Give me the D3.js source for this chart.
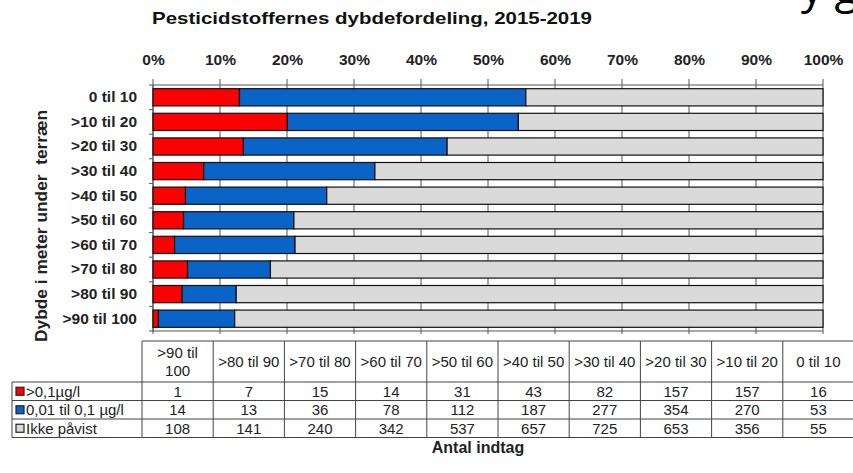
<!DOCTYPE html>
<html>
<head>
<meta charset="utf-8">
<script src="https://cdnjs.cloudflare.com/ajax/libs/d3/7.8.5/d3.min.js"></script>
<style>
  html, body { margin: 0; padding: 0; background: #fff; }
  svg { display: block; font-family: "Liberation Sans", Arial, sans-serif; }
</style>
</head>
<body>
<svg id="chart" width="853" height="473"></svg>
<script>
// Depth intervals (meters below ground), top to bottom
const categories = ["0 til 10", ">10 til 20", ">20 til 30", ">30 til 40", ">40 til 50",
                    ">50 til 60", ">60 til 70", ">70 til 80", ">80 til 90", ">90 til 100"];
// Number of wells per depth interval and finding class
const over01   = [16, 157, 157, 82, 43, 31, 14, 15, 7, 1];
const mid001   = [53, 270, 354, 277, 187, 112, 78, 36, 13, 14];
const ikkePav  = [55, 356, 653, 725, 657, 537, 342, 240, 141, 108];
const seriesNames  = [">0,1µg/l", "0,01 til 0,1 µg/l", "Ikke påvist"];
const seriesColors = ["#ff0000", "#0a64c8", "#dadada"];
const pctTicks = [0, 0.1, 0.2, 0.3, 0.4, 0.5, 0.6, 0.7, 0.8, 0.9, 1.0];

const svg = d3.select("#chart");

// Partially visible heading above the chart
svg.append("text")
  .attr("x", 801).attr("y", 3)
  .attr("font-family", "'Open Sans', sans-serif")
  .attr("font-size", 44)
  .attr("fill", "#000")
  .text("y g");

// Title
svg.append("text")
  .attr("x", 372).attr("y", 24)
  .attr("text-anchor", "middle")
  .attr("font-weight", "bold")
  .attr("font-size", 17)
  .attr("fill", "#111")
  .attr("textLength", 440)
  .attr("lengthAdjust", "spacingAndGlyphs")
  .text("Pesticidstoffernes dybdefordeling, 2015-2019");

const plot = { left: 153, right: 823, top: 85, bottom: 331 };

const x = d3.scaleLinear().domain([0, 1]).range([plot.left, plot.right]);
const y = d3.scaleBand().domain(categories)
  .range([plot.top, plot.bottom])
  .paddingInner(0.3).paddingOuter(0.15);

// Stack shares
const rows = categories.map((c, i) => {
  const tot = over01[i] + mid001[i] + ikkePav[i];
  return { cat: c, s0: over01[i] / tot, s1: mid001[i] / tot, s2: ikkePav[i] / tot };
});
const stack = d3.stack().keys(["s0", "s1", "s2"])(rows);

// Vertical gridlines, extending as ticks above and below the plot
const g = svg.append("g");
g.selectAll("line.grid").data(pctTicks).join("line")
  .attr("x1", d => x(d)).attr("x2", d => x(d))
  .attr("y1", plot.top - 6).attr("y2", plot.bottom + 3)
  .attr("stroke", "#555").attr("stroke-width", 1);

// Top and bottom frame lines
g.append("line").attr("x1", plot.left).attr("x2", plot.right)
  .attr("y1", plot.top).attr("y2", plot.top).attr("stroke", "#555");
g.append("line").attr("x1", plot.left).attr("x2", plot.right)
  .attr("y1", plot.bottom).attr("y2", plot.bottom).attr("stroke", "#555");

// Left axis line with ticks between categories
g.append("line").attr("x1", plot.left).attr("x2", plot.left)
  .attr("y1", plot.top).attr("y2", plot.bottom).attr("stroke", "#555");
const boundaries = d3.range(categories.length + 1).map(i => plot.top + i * y.step());
g.selectAll("line.ytick").data(boundaries).join("line")
  .attr("x1", plot.left - 4).attr("x2", plot.left)
  .attr("y1", d => Math.min(d, plot.bottom)).attr("y2", d => Math.min(d, plot.bottom))
  .attr("stroke", "#555");

// Top percentage labels
const xAxis = d3.axisTop(x).tickValues(pctTicks).tickFormat(d3.format(".0%")).tickSize(0);
const xg = svg.append("g").attr("transform", `translate(0,${plot.top - 17})`).call(xAxis);
xg.select(".domain").remove();
xg.selectAll("text").attr("font-size", 15.5).attr("font-weight", "bold")
  .attr("font-family", "'Liberation Sans', Arial, sans-serif").attr("fill", "#222");

// Bars
svg.append("g").selectAll("g").data(stack).join("g")
  .attr("fill", (d, i) => seriesColors[i])
  .selectAll("rect").data(d => d).join("rect")
  .attr("x", d => x(d[0]))
  .attr("y", d => y(d.data.cat))
  .attr("width", d => x(d[1]) - x(d[0]))
  .attr("height", y.bandwidth())
  .attr("stroke", "#111").attr("stroke-width", 1.2);

// Category labels
const yAxis = d3.axisLeft(y).tickSize(0).tickPadding(16);
const yg = svg.append("g").attr("transform", `translate(${plot.left},0)`).call(yAxis);
yg.select(".domain").remove();
yg.selectAll("text").attr("font-size", 15.5).attr("font-weight", "bold")
  .attr("font-family", "'Liberation Sans', Arial, sans-serif").attr("fill", "#222");

// Y axis title
svg.append("text")
  .attr("transform", "translate(47,226) rotate(-90)")
  .attr("text-anchor", "middle")
  .attr("font-weight", "bold")
  .attr("font-size", 16)
  .attr("fill", "#222")
  .attr("xml:space", "preserve")
  .attr("textLength", 232)
  .attr("lengthAdjust", "spacingAndGlyphs")
  .text("Dybde i meter under  terræn");

// Data table below the chart (columns in reversed depth order)
const tbl = { left: 12, labelRight: 142, top: 341, headH: 41, rowH: 18.5 };
const colOrder = categories.slice().reverse();
const colW = 71.2;
const colX = d3.scaleBand().domain(colOrder)
  .range([tbl.labelRight, tbl.labelRight + colW * colOrder.length]);
const tableSeries = [over01, mid001, ikkePav];
const tg = svg.append("g").attr("stroke", "#444").attr("stroke-width", 1);
const tblRight = tbl.labelRight + colW * colOrder.length;
const tblBottom = tbl.top + tbl.headH + tbl.rowH * 3;

tg.append("line").attr("x1", tbl.labelRight).attr("x2", tblRight).attr("y1", tbl.top).attr("y2", tbl.top);
[0, 1, 2, 3].forEach(r => {
  const yy = tbl.top + tbl.headH + r * tbl.rowH;
  tg.append("line").attr("x1", tbl.left).attr("x2", tblRight).attr("y1", yy).attr("y2", yy);
});
tg.append("line").attr("x1", tbl.left).attr("x2", tbl.left)
  .attr("y1", tbl.top + tbl.headH).attr("y2", tblBottom);
colOrder.forEach(c => {
  tg.append("line").attr("x1", colX(c)).attr("x2", colX(c)).attr("y1", tbl.top).attr("y2", tblBottom);
});
tg.append("line").attr("x1", tblRight).attr("x2", tblRight).attr("y1", tbl.top).attr("y2", tblBottom);

const txt = svg.append("g").attr("font-size", 15).attr("fill", "#222")
  .attr("font-family", "'Liberation Sans', Arial, sans-serif");
// Header labels
colOrder.forEach(c => {
  const cx = colX(c) + colW / 2;
  const t = txt.append("text").attr("x", cx).attr("text-anchor", "middle");
  if (c === ">90 til 100") {
    t.append("tspan").attr("x", cx).attr("y", tbl.top + 17).text(">90 til");
    t.append("tspan").attr("x", cx).attr("y", tbl.top + 35).text("100");
  } else {
    t.attr("y", tbl.top + tbl.headH / 2 + 5.5).text(c);
  }
});
// Series rows
tableSeries.forEach((vals, r) => {
  const cy = tbl.top + tbl.headH + r * tbl.rowH + tbl.rowH / 2;
  svg.append("rect")
    .attr("x", tbl.left + 4).attr("y", cy - 4).attr("width", 8).attr("height", 8)
    .attr("fill", seriesColors[r]).attr("stroke", "#222").attr("stroke-width", 1.2);
  txt.append("text").attr("x", tbl.left + 14).attr("y", cy + 5.5).text(seriesNames[r]);
  const byCat = {};
  categories.forEach((c, i) => byCat[c] = vals[i]);
  colOrder.forEach(c => {
    txt.append("text").attr("x", colX(c) + colW / 2).attr("y", cy + 5.5)
      .attr("text-anchor", "middle").text(byCat[c]);
  });
});

// Table axis title
svg.append("text")
  .attr("x", 478).attr("y", 453)
  .attr("text-anchor", "middle")
  .attr("font-weight", "bold")
  .attr("font-size", 16)
  .attr("fill", "#222")
  .text("Antal indtag");
</script>
</body>
</html>
